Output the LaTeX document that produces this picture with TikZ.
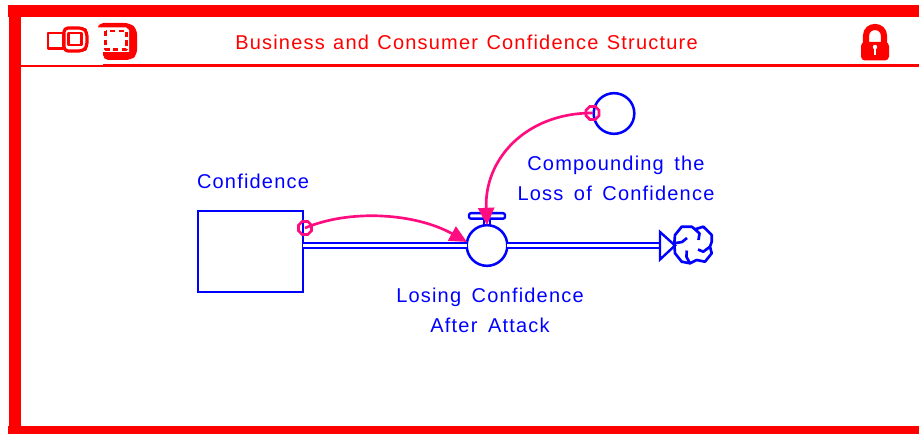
\documentclass[tikz,border=0pt]{standalone}
\usepackage{fontspec}
\setmainfont{Liberation Sans}
\newfontfamily\spacedfont[LetterSpace=6,WordSpace=1.6]{Liberation Sans}
\newfontfamily\titlefont[LetterSpace=6,WordSpace=1.25]{Liberation Sans}
\usetikzlibrary{arrows.meta,shapes.geometric}
\definecolor{frame}{RGB}{255,0,0}
\definecolor{ink}{RGB}{0,0,255}
\definecolor{link}{RGB}{255,13,128}
\tikzset{
  x=0.75pt,y=-0.75pt,
  every node/.style={inner sep=0,outer sep=0},
  bar/.style={fill=frame,draw=none},
  label/.style={text=ink,font=\spacedfont\fontsize{15}{22.5}\selectfont,align=center},
  headtext/.style={text=frame,font=\titlefont\fontsize{15}{18}\selectfont},
  stockbox/.style={draw=ink,line width=1.6pt,rectangle,minimum width=79pt,minimum height=60.5pt,anchor=north west},
  roundnode/.style={draw=ink,line width=1.9pt,circle,fill=white,minimum size=30.5pt},
  pipe/.style={draw=ink,line width=1.7pt,double=white,double distance=1.6pt,line cap=butt},
  tap/.style={draw=link,line width=2pt,regular polygon,regular polygon sides=8,minimum size=10.5pt},
  linkline/.style={draw=link,line width=2pt,-{Triangle[length=13pt,width=12pt,fill=link]}},
  plain/.style={draw=ink,line width=1.8pt,line join=round},
  swirl/.style={draw=ink,line width=2pt,line join=round},
  icon/.style={draw=frame,line width=2pt,line join=round}
}
\begin{document}
\begin{tikzpicture}
\useasboundingbox (0,0) rectangle (919,434);
\fill[white] (0,0) rectangle (919,434);
% frame
\path[bar] (8,5) rectangle (919,17);
\path[bar] (9,17) rectangle (21,427);
\path[bar] (8,426) rectangle (919,434);
\path[bar] (21,64.8) rectangle (103,67);
\path[bar] (103,63.8) rectangle (919,67);
% header
\node[headtext] (title) at (466.5,42.5) {Business and Consumer Confidence Structure};
% left icon
\draw[icon] (48,33) rectangle (63,48.5);
\draw[icon,line width=2.4pt,rounded corners=3pt] (64,28) -- (83,28) -- (87,32) -- (87,47) -- (83,51) -- (64,51) -- cycle;
\draw[icon] (68.5,33) rectangle (81.5,45);
% right icon
\fill[frame,rounded corners=4pt] (98,23) -- (130,23) -- (137,29) -- (137,55) -- (131,60) -- (103,60) -- (103,40) -- (98,28) -- cycle;
\fill[white] (97,27.5) -- (126,27.5) -- (129,30) -- (129,52) -- (97,52) -- cycle;
\draw[icon,line width=1.6pt,dash pattern=on 4pt off 2.5pt] (105.5,31) rectangle (126.5,49.5);
% lock
\draw[draw=frame,line width=4.6pt] (866,44) -- (866,36) .. controls (866,24) and (884,24) .. (884,36) -- (884,44);
\fill[frame,rounded corners=3pt] (861,42) rectangle (889,60.5);
\fill[white] (875,47) circle[radius=2.2];
\fill[white] (874,47) rectangle (876,55.5);
% nodes
\node[stockbox] (stock) at (198,211) {};
\node[roundnode] (valve) at (487,245.5) {};
\node[roundnode] (conv) at (614,113.5) {};
\node[circle,minimum size=28pt] (cloud) at (693,245) {};
\node[tap] (tapS) at (305,228) {};
\node[tap] (tapC) at (592.5,113) {};
% labels
\node[label] (lblS) at (253,181.5) {Confidence};
\node[label] (lblC) at (616,178) {Compounding the\\Loss of Confidence};
\node[label] (lblV) at (490,310) {Losing Confidence\\After Attack};
% pipes
\draw[pipe] (stock.east |- valve) -- (valve.west);
\coordinate (inlet) at ([xshift=-24.75pt]cloud.center);
\draw[pipe] (valve.east) -- (inlet |- valve);
% valve handle
\draw[plain,line width=1.6pt] ([xshift=-2.4pt]valve.north) -- ++(0,-7) ([xshift=2.4pt]valve.north) -- ++(0,-7);
\draw[plain,fill=white,rounded corners=1.5pt] ([xshift=-13.5pt]valve.north) ++(0,-12) rectangle ++(36,5.5);
% outlet arrow
\draw[plain,fill=white,line join=miter] (inlet |- 0,232) -- (675,245.5) -- (inlet |- 0,259.5) -- cycle;
% cloud
\draw[swirl] (674.3,243.3) -- (675,235) -- (681.7,226.7) -- (691.7,226.7) -- (695,229.3) -- (703.3,226.7) -- (711.7,235) -- (711.7,241.7) -- (710,246.7) -- (711.7,253.3) -- (705,261.7) -- (696.7,260) -- (690,263.3) -- (681.7,261.7) -- (675,253.3) -- cycle;
\draw[swirl] (674.3,243.3) -- (682,242) -- (687,238);
\draw[swirl] (695,229.3) -- (699.5,233.5) -- (698.5,240);
\draw[swirl] (710,246.7) -- (703.3,251.7) -- (698,249.5);
\draw[swirl] (690,263.3) -- (686.5,257) -- (686.7,250.5);
% links
\draw[linkline] (tapS.center) .. controls (350,209) and (415,213) .. (valve.170);
\draw[linkline] (tapC.center) .. controls (525,113) and (484,160) .. (valve.north);
\end{tikzpicture}
\end{document}
